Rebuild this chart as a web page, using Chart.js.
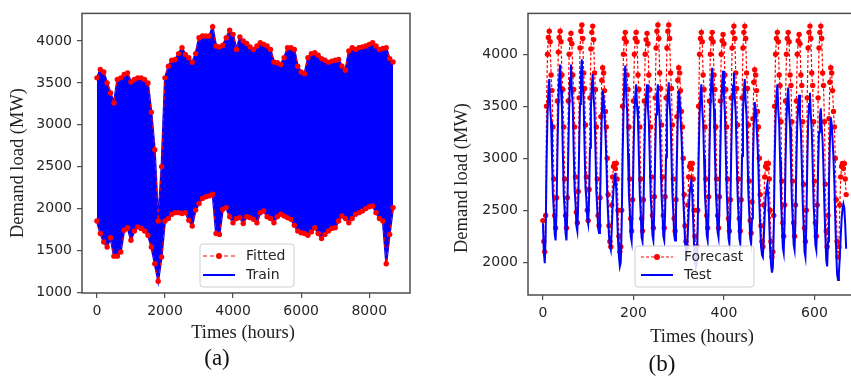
<!DOCTYPE html>
<html>
<head>
<meta charset="utf-8">
<script src="https://cdn.jsdelivr.net/npm/chart.js@4.4.1/dist/chart.umd.min.js"></script>
<style>
  body { margin: 0; width: 851px; height: 379px; overflow: hidden; background: #fff; position: relative; }
  .panel { position: absolute; top: 0; }
  #wrapA { left: 0; width: 430px; height: 379px; }
  #wrapB { left: 430px; width: 450px; height: 379px; }
  .cap { position: absolute; font-family: 'Liberation Serif', serif; font-size: 23px; color: #111; transform: translate(-50%, -50%); }
</style>
</head>
<body>
<div class="panel" id="wrapA"><canvas id="chartA" width="430" height="379"></canvas></div>
<div class="panel" id="wrapB"><canvas id="chartB" width="450" height="379"></canvas></div>
<div class="cap" style="left:217px;top:358px">(a)</div>
<div class="cap" style="left:662px;top:364px">(b)</div>
<script>
// ---- (a) training year: daily highs and lows of the band, every 100 hours ----
var stepA = 100;
var trainHigh = [
  3560, 3660, 3630, 3500, 3380, 3260, 3540, 3560, 3600, 3620,
  3510, 3540, 3560, 3560, 3540, 3500, 3150, 2700, 1850, 2500,
  3560, 3700, 3770, 3780, 3850, 3920, 3840, 3800, 3745, 3850,
  4040, 4060, 4060, 4060, 4170, 3940, 3930, 3950, 4040, 4130,
  4080, 3900, 4050, 4000, 3970, 3930, 3900, 3940, 3980, 3960,
  3940, 3900, 3750, 3740, 3720, 3800, 3920, 3920, 3900, 3700,
  3630, 3610, 3800, 3850, 3860, 3830, 3790, 3770, 3745, 3760,
  3770, 3780, 3700, 3650, 3880, 3920, 3900, 3920, 3930, 3940,
  3960, 3980, 3940, 3900, 3910, 3920, 3790, 3750
];
var trainLow = [
  1850, 1700, 1600, 1540, 1650, 1430, 1430, 1480, 1740, 1770,
  1620, 1730, 1780, 1760, 1730, 1680, 1540, 1340, 1130, 1420,
  1850, 1880, 1930, 1950, 1950, 1940, 1950, 1860, 1790, 1980,
  2060, 2120, 2140, 2150, 2170, 1700, 1690, 1990, 2010, 1900,
  1830, 1880, 1890, 1820, 1900, 1890, 1870, 1830, 1950, 1970,
  1900, 1880, 1830, 1900, 1930, 1910, 1890, 1870, 1800, 1730,
  1710, 1700, 1680, 1720, 1770, 1700, 1640, 1690, 1730, 1760,
  1770, 1850, 1910, 1880, 1830, 1880, 1930, 1950, 1970, 2000,
  2020, 2030, 1950, 1880, 1850, 1340, 1690, 2010
];
var ticksAx = [0, 2000, 4000, 6000, 8000];
var ticksAy = [1000, 1500, 2000, 2500, 3000, 3500, 4000];

// ---- (b) four test weeks, every 2 hours (one row per day) ----
var stepB = 2;
var testLoad = [
  2375, 2100, 1990, 2250, 2950, 3400, 3640, 3760, 3500, 3350, 3000, 2650,
  2500, 2270, 2210, 2500, 3050, 3500, 3780, 3900, 3650, 3480, 3050, 2650,
  2500, 2280, 2210, 2510, 3050, 3480, 3770, 3900, 3640, 3500, 3060, 2700,
  2560, 2350, 2300, 2580, 3100, 3520, 3820, 3950, 3700, 3540, 3100, 2720,
  2600, 2420, 2370, 2620, 3100, 3480, 3700, 3810, 3600, 3450, 3080, 2680,
  2520, 2330, 2280, 2500, 3000, 3400, 3650, 3580, 3420, 3250, 3000, 2650,
  2450, 2250, 2160, 2120, 2300, 2550, 2700, 2800, 2860, 2700, 2450, 2200,
  2050, 1960, 2000, 2350, 3000, 3450, 3770, 3890, 3620, 3450, 3050, 2650,
  2480, 2250, 2200, 2480, 3000, 3400, 3600, 3710, 3500, 3380, 3020, 2650,
  2470, 2240, 2200, 2470, 3000, 3420, 3600, 3710, 3480, 3350, 3000, 2640,
  2480, 2260, 2210, 2490, 3020, 3420, 3610, 3710, 3500, 3370, 3010, 2650,
  2480, 2250, 2210, 2480, 3010, 3430, 3620, 3730, 3520, 3380, 3020, 2660,
  2480, 2260, 2210, 2450, 2980, 3400, 3650, 3580, 3400, 3220, 2980, 2620,
  2420, 2200, 2110, 2080, 2260, 2480, 2650, 2740, 2790, 2650, 2400, 2150,
  2020, 1950, 1990, 2320, 2980, 3400, 3600, 3710, 3480, 3340, 3000, 2640,
  2490, 2260, 2210, 2500, 3050, 3480, 3750, 3870, 3620, 3460, 3050, 2680,
  2510, 2290, 2240, 2520, 3060, 3480, 3720, 3840, 3600, 3450, 3050, 2680,
  2470, 2230, 2180, 2470, 3030, 3460, 3700, 3820, 3580, 3430, 3030, 2660,
  2470, 2230, 2180, 2460, 3020, 3440, 3650, 3760, 3540, 3400, 3020, 2650,
  2460, 2230, 2180, 2420, 2950, 3330, 3540, 3470, 3320, 3150, 2920, 2580,
  2350, 2150, 2070, 2050, 2230, 2450, 2620, 2710, 2760, 2620, 2380, 2120,
  1980, 1900, 1950, 2300, 2960, 3380, 3600, 3710, 3470, 3330, 2980, 2600,
  2380, 2140, 2090, 2380, 2950, 3360, 3570, 3680, 3450, 3300, 2960, 2600,
  2400, 2170, 2120, 2400, 2950, 3340, 3510, 3610, 3400, 3260, 2940, 2580,
  2350, 2100, 2050, 2350, 2920, 3330, 3520, 3630, 3410, 3270, 2940, 2560,
  2380, 2170, 2120, 2380, 2900, 3250, 3400, 3480, 3300, 3160, 2880, 2520,
  2250, 2020, 1960, 2200, 2750, 3150, 3390, 3330, 3180, 3000, 2750, 2400,
  2100, 1880, 1830, 1900, 2050, 2250, 2420, 2510, 2560, 2520, 2350, 2130
];
var forecastLoad = [
  2400, 2200, 2100, 2450, 3500, 4000, 4160, 4220, 4120, 3800, 3650, 3300,
  2800, 2450, 2330, 2620, 3550, 4020, 4160, 4220, 4120, 3800, 3660, 3300,
  2800, 2450, 2330, 2620, 3550, 4000, 4140, 4200, 4100, 3800, 3660, 3300,
  2820, 2480, 2380, 2680, 3580, 4060, 4220, 4280, 4150, 3820, 3670, 3320,
  2820, 2500, 2400, 2700, 3580, 4050, 4210, 4270, 4140, 3820, 3660, 3300,
  2800, 2450, 2350, 2620, 3400, 3750, 3870, 3820, 3650, 3450, 3300, 3000,
  2650, 2350, 2200, 2150, 2550, 2820, 2920, 2950, 2900, 2950, 2800, 2500,
  2250, 2100, 2150, 2500, 3500, 4000, 4150, 4210, 4120, 3800, 3660, 3300,
  2800, 2420, 2300, 2600, 3550, 4000, 4150, 4210, 4120, 3800, 3660, 3300,
  2800, 2420, 2300, 2600, 3550, 4000, 4140, 4200, 4100, 3800, 3660, 3300,
  2820, 2450, 2330, 2630, 3580, 4060, 4220, 4280, 4150, 3820, 3670, 3320,
  2820, 2450, 2330, 2630, 3580, 4060, 4220, 4280, 4150, 3820, 3670, 3320,
  2800, 2420, 2300, 2600, 3400, 3750, 3870, 3820, 3650, 3450, 3300, 3000,
  2650, 2350, 2200, 2150, 2550, 2820, 2920, 2950, 2900, 2950, 2800, 2500,
  2250, 2100, 2150, 2500, 3500, 4000, 4150, 4210, 4120, 3800, 3660, 3300,
  2800, 2450, 2330, 2630, 3550, 4000, 4150, 4210, 4120, 3800, 3660, 3300,
  2800, 2450, 2330, 2630, 3550, 4000, 4130, 4190, 4100, 3800, 3660, 3300,
  2800, 2420, 2300, 2600, 3580, 4060, 4210, 4270, 4150, 3820, 3670, 3320,
  2800, 2420, 2300, 2600, 3580, 4060, 4210, 4270, 4150, 3820, 3670, 3320,
  2780, 2400, 2280, 2580, 3380, 3730, 3850, 3800, 3650, 3450, 3300, 3000,
  2650, 2350, 2200, 2150, 2550, 2820, 2920, 2950, 2900, 2950, 2800, 2500,
  2200, 2050, 2100, 2450, 3500, 4000, 4150, 4210, 4120, 3800, 3700, 3350,
  2780, 2380, 2250, 2550, 3550, 4000, 4150, 4210, 4120, 3800, 3700, 3350,
  2780, 2380, 2250, 2550, 3550, 4000, 4130, 4190, 4100, 3800, 3700, 3350,
  2750, 2330, 2200, 2500, 3580, 4060, 4210, 4270, 4150, 3820, 3700, 3350,
  2780, 2380, 2250, 2550, 3580, 4060, 4210, 4270, 4150, 3820, 3700, 3350,
  2750, 2300, 2150, 2450, 3380, 3730, 3870, 3820, 3650, 3450, 3300, 3000,
  2600, 2200, 2050, 2150, 2550, 2820, 2920, 2950, 2900, 2950, 2800, 2650
];
var ticksBx = [0, 200, 400, 600];
var ticksBy = [2000, 2500, 3000, 3500, 4000];

var RED = '#ff0000';
var BLUE = '#0000ff';
var INK = '#262626';
var TICK_FONT = { family: "'DejaVu Sans', sans-serif", size: 14 };

function series(values, step) {
  return values.map(function (v, i) { return { x: i * step, y: v }; });
}

// matplotlib-like box around the axes
var framePlugin = {
  id: 'frame',
  afterDatasetsDraw: function (chart) {
    var a = chart.chartArea, ctx = chart.ctx;
    ctx.save();
    ctx.strokeStyle = '#4d4d4d';
    ctx.lineWidth = 1.5;
    ctx.strokeRect(a.left, a.top, a.right - a.left, a.bottom - a.top);
    ctx.restore();
  }
};

// axis labels placed where the original figure has them
var axisText = {
  id: 'axisText',
  afterDraw: function (chart, args, o) {
    var ctx = chart.ctx;
    ctx.save();
    ctx.fillStyle = '#222';
    ctx.font = '18.5px "Liberation Serif", serif';
    ctx.textAlign = 'center';
    ctx.textBaseline = 'middle';
    ctx.fillText(o.xText, o.xAt[0], o.xAt[1]);
    ctx.translate(o.yAt[0], o.yAt[1]);
    ctx.rotate(-Math.PI / 2);
    ctx.fillText(o.yText, 0, 0);
    ctx.restore();
  }
};

// legend box inside the plot, lower centre
var boxLegend = {
  id: 'boxLegend',
  afterDraw: function (chart, args, o) {
    var ctx = chart.ctx;
    ctx.save();
    ctx.beginPath();
    if (ctx.roundRect) ctx.roundRect(o.box[0], o.box[1], o.box[2], o.box[3], 3);
    else ctx.rect(o.box[0], o.box[1], o.box[2], o.box[3]);
    ctx.fillStyle = 'rgba(255,255,255,0.85)';
    ctx.fill();
    ctx.strokeStyle = '#cfcfcf';
    ctx.lineWidth = 1;
    ctx.stroke();
    o.items.forEach(function (idx, i) {
      var ds = chart.data.datasets[idx];
      var y = o.rows[i];
      ctx.strokeStyle = ds.borderColor;
      ctx.lineWidth = ds.borderWidth;
      ctx.setLineDash(ds.borderDash || []);
      ctx.beginPath();
      ctx.moveTo(o.line[0], y);
      ctx.lineTo(o.line[1], y);
      ctx.stroke();
      ctx.setLineDash([]);
      if (ds.pointRadius > 0) {
        ctx.fillStyle = ds.pointBackgroundColor;
        ctx.beginPath();
        ctx.arc((o.line[0] + o.line[1]) / 2, y, 3, 0, Math.PI * 2);
        ctx.fill();
      }
      ctx.fillStyle = INK;
      ctx.font = '14px "DejaVu Sans", sans-serif';
      ctx.textAlign = 'left';
      ctx.textBaseline = 'middle';
      ctx.fillText(ds.label, o.textX, y);
    });
    ctx.restore();
  }
};

function axis(min, max, tickValues, fit) {
  return {
    type: 'linear',
    min: min,
    max: max,
    afterBuildTicks: function (s) { s.ticks = tickValues.map(function (v) { return { value: v }; }); },
    afterFit: fit,
    grid: { display: true, drawOnChartArea: false, drawTicks: true, tickLength: 5, color: '#4d4d4d', lineWidth: 1.2 },
    border: { display: false },
    ticks: {
      autoSkip: false, maxRotation: 0, padding: 5, color: INK, font: TICK_FONT,
      callback: function (v) { return String(v); }
    }
  };
}

Chart.defaults.animation = false;

var fittedStyle = {
  borderColor: RED, borderWidth: 1, borderDash: [4, 3],
  pointRadius: 2.4, pointBackgroundColor: RED, pointBorderWidth: 0,
  fill: false
};

new Chart(document.getElementById('chartA'), {
  type: 'line',
  data: {
    datasets: [
      Object.assign({ label: 'Fitted', data: series(trainHigh, stepA), order: 0 }, fittedStyle, { pointRadius: 2.7 }),
      Object.assign({ label: 'Fitted', data: series(trainLow, stepA), order: 0 }, fittedStyle, { pointRadius: 2.7 }),
      {
        label: 'Train', data: series(trainHigh, stepA),
        borderColor: BLUE, borderWidth: 2, pointRadius: 0,
        fill: '+1', backgroundColor: BLUE, order: 1
      },
      {
        label: 'Train', data: series(trainLow, stepA),
        borderColor: BLUE, borderWidth: 2, pointRadius: 0,
        fill: false, order: 1
      }
    ]
  },
  options: {
    responsive: false,
    events: [],
    layout: { padding: { top: 10, right: 20, bottom: 0, left: 0 } },
    scales: {
      x: axis(-438, 9198, ticksAx, function (s) { s.height = 86; }),
      y: axis(990, 4330, ticksAy, function (s) { s.width = 82; })
    },
    plugins: {
      legend: { display: false },
      tooltip: { enabled: false },
      axisText: { xText: 'Times (hours)', xAt: [243, 333], yText: 'Demand load (MW)', yAt: [18, 163] },
      boxLegend: { items: [0, 2], box: [200, 244, 94, 43], rows: [256, 275], line: [203, 235], textX: 246 }
    }
  },
  plugins: [framePlugin, axisText, boxLegend]
});

new Chart(document.getElementById('chartB'), {
  type: 'line',
  data: {
    datasets: [
      Object.assign({ label: 'Forecast', data: series(forecastLoad, stepB), order: 1 }, fittedStyle, { pointRadius: 2.7, borderWidth: 1.2, borderDash: [3, 2] }),
      {
        label: 'Test', data: series(testLoad, stepB),
        borderColor: BLUE, borderWidth: 2, pointRadius: 0,
        fill: false, order: 0
      }
    ]
  },
  options: {
    responsive: false,
    events: [],
    layout: { padding: { top: 12, right: 18, bottom: 0, left: 0 } },
    scales: {
      x: axis(-33, 705, ticksBx, function (s) { s.height = 84; }),
      y: axis(1685, 4392, ticksBy, function (s) { s.width = 98; })
    },
    plugins: {
      legend: { display: false },
      tooltip: { enabled: false },
      axisText: { xText: 'Times (hours)', xAt: [272, 337], yText: 'Demand load (MW)', yAt: [32, 178] },
      boxLegend: { items: [0, 1], box: [205, 246, 119, 41], rows: [257, 275], line: [211, 243], textX: 254 }
    }
  },
  plugins: [framePlugin, axisText, boxLegend]
});
</script>
</body>
</html>
